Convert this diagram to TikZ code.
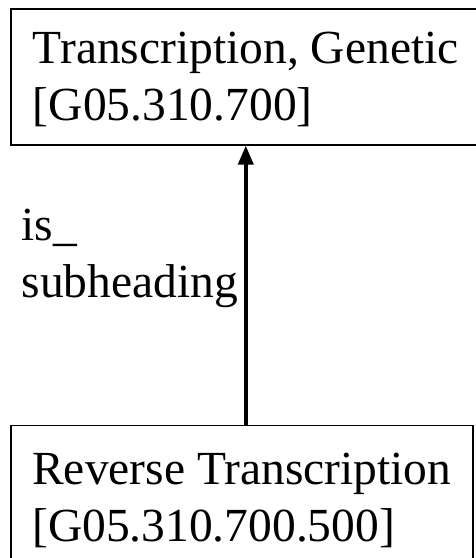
\documentclass[tikz,border=0pt]{standalone}
\usepackage{fontspec}
\setmainfont{Liberation Serif}
\usepackage{tikz}
\usetikzlibrary{arrows.meta}
\usetikzlibrary{calc,positioning}

\begin{document}
\begin{tikzpicture}[
    term/.style={rectangle, draw=black, line width=1.6pt, align=left,
    font=\fontsize{47.5}{57}\selectfont, text=black},
    link/.style={line width=3.8pt, -{Triangle[length=19pt,width=15pt]}}]
    \useasboundingbox (0,0) rectangle (476pt,-558pt);
    \clip (0,0) rectangle (476pt,-558pt);

    \node (genetic) [term, anchor=north west, minimum width=470pt, minimum height=136pt,
        text depth=1pt] at (10pt,-8pt)
    {
        Transcription, Genetic\\ {[}G05.310.700{]}
    };

    \node (reverse) [term, below=279pt of genetic.south west, anchor=north west,
        minimum width=462pt, minimum height=150pt]
    {
        Reverse Transcription\\ {[}G05.310.700.500{]}
    };

    \draw [link] (genetic.south |- reverse.north) -- (genetic.south)
        node [pos=0.595, left, align=left, inner sep=6pt,
        font=\fontsize{47.5}{57}\selectfont] {is\_\\ subheading};
\end{tikzpicture}
\end{document}
